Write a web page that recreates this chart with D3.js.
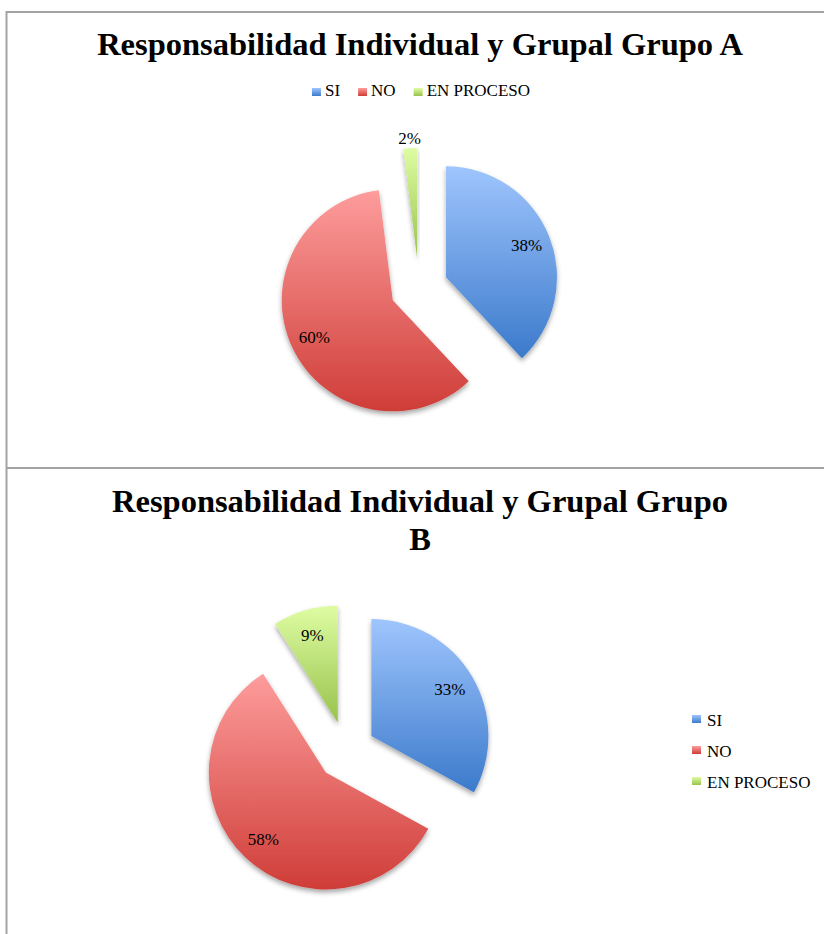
<!DOCTYPE html>
<html>
<head>
<meta charset="utf-8">
<script src="https://cdn.jsdelivr.net/npm/d3@7"></script>
<style>
  body { margin: 0; background: #fff; }
  svg { display: block; }
</style>
</head>
<body>
<div id="chart"></div>
<script>
// data
const categories = ["SI", "NO", "EN PROCESO"];
const valuesA = [38, 60, 2];
const valuesB = [33, 58, 9];
const titleA = ["Responsabilidad Individual y Grupal Grupo A"];
const titleB = ["Responsabilidad Individual y Grupal Grupo", "B"];

// gradient stops (top, bottom) per category
const colors = [
  ["#9fc5fd", "#3b7acb"],
  ["#fd9d9c", "#cf3d38"],
  ["#defda3", "#98c24c"]
];

const font = "'Liberation Serif', Tinos, 'Times New Roman', Times, 'DejaVu Serif', serif";
const width = 824, height = 934;

const svg = d3.select("#chart").append("svg")
  .attr("width", width)
  .attr("height", height)
  .attr("font-family", font);

const defs = svg.append("defs");
colors.forEach(function(c, i){
  let g = defs.append("linearGradient")
    .attr("id", "grad" + i)
    .attr("x1", 0).attr("y1", 0).attr("x2", 0).attr("y2", 1);
  g.append("stop").attr("offset", "0%").attr("stop-color", c[0]);
  g.append("stop").attr("offset", "100%").attr("stop-color", c[1]);
});

let shadow = defs.append("filter").attr("id", "shadow")
  .attr("x", "-20%").attr("y", "-20%").attr("width", "140%").attr("height", "150%");
shadow.append("feDropShadow")
  .attr("dx", 0).attr("dy", 3).attr("stdDeviation", 2.5)
  .attr("flood-color", "#000").attr("flood-opacity", 0.35);

// frame lines
svg.append("line").attr("x1", 6.5).attr("x2", 6.5).attr("y1", 11).attr("y2", height)
  .attr("stroke", "#a3a3a3").attr("stroke-width", 2);
svg.append("line").attr("x1", 6).attr("x2", width).attr("y1", 12).attr("y2", 12)
  .attr("stroke", "#a3a3a3").attr("stroke-width", 2);
svg.append("line").attr("x1", 6).attr("x2", width).attr("y1", 468).attr("y2", 468)
  .attr("stroke", "#a3a3a3").attr("stroke-width", 2);

function drawPie(values, opts){
  let g = svg.append("g");
  let pie = d3.pie().sort(null).value(function(d){ return d; });
  let arcs = pie(values);
  let arc = d3.arc().innerRadius(0).outerRadius(opts.r);
  let total = d3.sum(values);

  arcs.forEach(function(a, i){
    let mid = (a.startAngle + a.endAngle) / 2;
    let dx = Math.sin(mid), dy = -Math.cos(mid);
    let vx = opts.cx + dx * opts.explode;
    let vy = opts.cy + dy * opts.explode;

    g.append("path")
      .attr("d", arc(a))
      .attr("transform", `translate(${vx},${vy})`)
      .attr("fill", `url(#grad${i})`)
      .attr("filter", "url(#shadow)");

    let small = values[i] / total < 0.05;
    let k = small ? opts.r * 1.09 : opts.r * 0.78;
    g.append("text")
      .attr("x", vx + dx * k)
      .attr("y", vy + dy * k)
      .attr("dy", "0.35em")
      .attr("text-anchor", "middle")
      .attr("font-size", 17)
      .text(Math.round(values[i] / total * 100) + "%");
  });
}

function drawTitle(lines, cx, y0){
  lines.forEach(function(t, i){
    svg.append("text")
      .attr("x", cx)
      .attr("y", y0 + i * 38)
      .attr("text-anchor", "middle")
      .attr("font-size", 32.5)
      .attr("font-weight", "bold")
      .text(t);
  });
}

// ---- chart A
drawTitle(titleA, 420, 55);
drawPie(valuesA, { cx: 419, cy: 288, r: 111, explode: 29 });

// horizontal legend
let legA = svg.append("g");
let lx = 0;
categories.forEach(function(c, i){
  let item = legA.append("g").attr("transform", `translate(${lx},0)`);
  item.append("rect").attr("x", 0).attr("y", -8).attr("width", 9).attr("height", 8)
    .attr("fill", `url(#grad${i})`);
  let t = item.append("text").attr("x", 13).attr("y", 0)
    .attr("font-size", 17).text(c);
  lx += 13 + t.node().getComputedTextLength() + 18;
});
lx -= 18;
legA.attr("transform", `translate(${421 - lx / 2},96)`);

// ---- chart B
drawTitle(titleB, 420, 512);
drawPie(valuesB, { cx: 346, cy: 751, r: 117, explode: 29.5 });

// vertical legend
let legB = svg.append("g").attr("transform", "translate(692,0)");
categories.forEach(function(c, i){
  let y = 720 + i * 31;
  legB.append("rect").attr("x", 0).attr("y", y - 5).attr("width", 9).attr("height", 8)
    .attr("fill", `url(#grad${i})`);
  legB.append("text").attr("x", 15).attr("y", y).attr("dy", "0.35em")
    .attr("font-size", 17).text(c);
});
</script>
</body>
</html>
